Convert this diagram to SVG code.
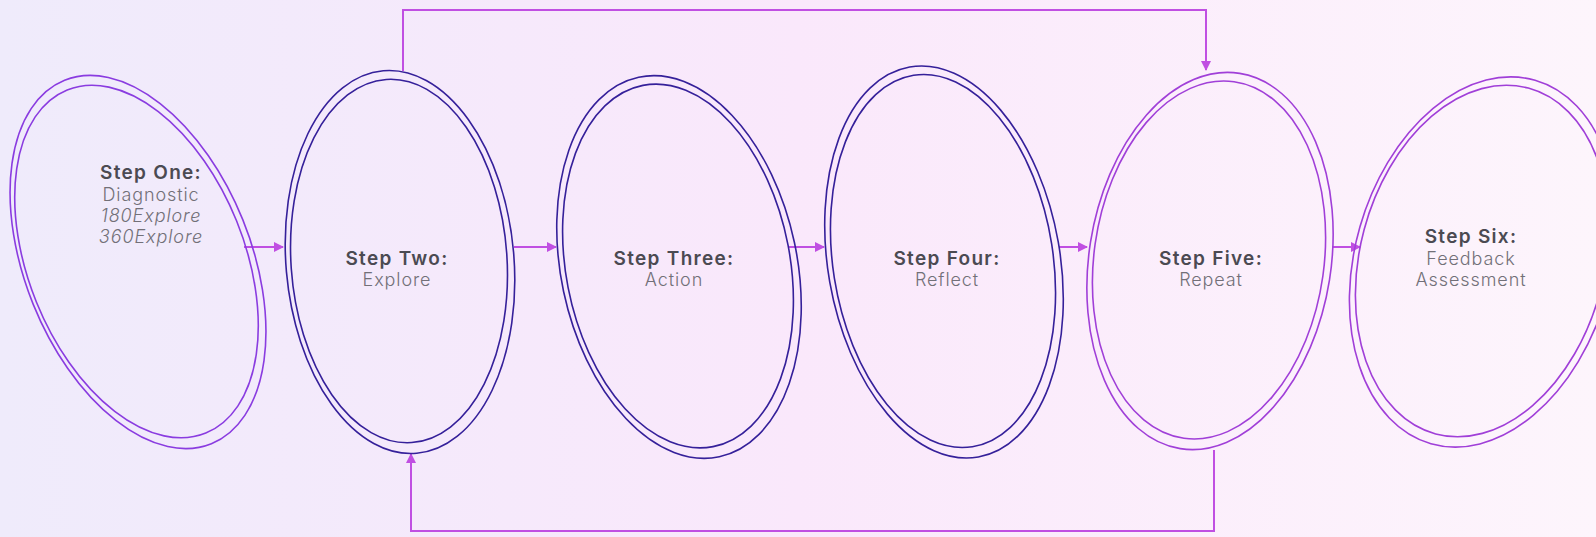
<svg xmlns="http://www.w3.org/2000/svg" width="1596" height="537" viewBox="0 0 1596 537">
<defs>
<linearGradient id="bg" x1="0" y1="0" x2="1" y2="0">
<stop offset="0" stop-color="#efebfb"/>
<stop offset="0.5" stop-color="#fae8fb"/>
<stop offset="1" stop-color="#fdf5fc"/>
</linearGradient>
<marker id="ah" viewBox="0 0 10 10" refX="9" refY="5" markerWidth="5" markerHeight="5" orient="auto-start-reverse">
<path d="M0,0 L10,5 L0,10 z" fill="#c04fe2"/>
</marker>
<style>
.conn{fill:none;stroke:#c04fe2;stroke-width:2}
.ring{fill:none;stroke-width:1.6}
.purple .ring{stroke:#8a3ce0}
.navy .ring{stroke:#35209a}
.magenta .ring{stroke:#a03fd8}
.t{font-family:"Inter","Liberation Sans",sans-serif;font-size:19px;font-weight:600;fill:#4b4a52;text-anchor:middle;letter-spacing:1.3px}
.s{font-family:"Inter","Liberation Sans",sans-serif;font-size:18px;font-weight:300;fill:#727078;text-anchor:middle;letter-spacing:0.9px}
.i{font-style:italic}
</style>
</defs>
<rect width="1596" height="537" fill="url(#bg)"/>
<g id="connectors">
<line class="conn" x1="244" y1="247" x2="283" y2="247" marker-end="url(#ah)"/>
<line class="conn" x1="514" y1="247" x2="556" y2="247" marker-end="url(#ah)"/>
<line class="conn" x1="789" y1="247" x2="824" y2="247" marker-end="url(#ah)"/>
<line class="conn" x1="1059" y1="247" x2="1087" y2="247" marker-end="url(#ah)"/>
<line class="conn" x1="1332" y1="247" x2="1360" y2="247" marker-end="url(#ah)"/>
<polyline class="conn" points="403,71 403,10 1206,10 1206,70" marker-end="url(#ah)"/>
<polyline class="conn" points="1214,450 1214,531 411,531 411,454" marker-end="url(#ah)"/>
</g>
<g id="node1" class="purple">
<ellipse class="ring" cx="138" cy="262" rx="113" ry="196" transform="rotate(-22 138 262)"/>
<ellipse class="ring" cx="136.5" cy="261.5" rx="108" ry="185" transform="rotate(-22 136.5 261.5)"/>
<text class="t" x="151" y="179">Step One:</text>
<text class="s" x="151" y="201">Diagnostic</text>
<text class="s i" x="151" y="222">180Explore</text>
<text class="s i" x="151" y="243">360Explore</text>
</g>
<g id="node2" class="navy">
<ellipse class="ring" cx="400" cy="262" rx="114" ry="192" transform="rotate(-5 400 262)"/>
<ellipse class="ring" cx="399" cy="261" rx="108" ry="182" transform="rotate(-4 399 261)"/>
<text class="t" x="397" y="265">Step Two:</text>
<text class="s" x="397" y="286">Explore</text>
</g>
<g id="node3" class="navy">
<ellipse class="ring" cx="679" cy="267" rx="118" ry="194" transform="rotate(-12 679 267)"/>
<ellipse class="ring" cx="678" cy="266" rx="112" ry="184" transform="rotate(-11 678 266)"/>
<text class="t" x="674" y="265">Step Three:</text>
<text class="s" x="674" y="286">Action</text>
</g>
<g id="node4" class="navy">
<ellipse class="ring" cx="944" cy="262" rx="116" ry="198" transform="rotate(-10 944 262)"/>
<ellipse class="ring" cx="943" cy="261" rx="110" ry="188" transform="rotate(-9 943 261)"/>
<text class="t" x="947" y="265">Step Four:</text>
<text class="s" x="947" y="286">Reflect</text>
</g>
<g id="node5" class="magenta">
<ellipse class="ring" cx="1210" cy="261" rx="121" ry="190" transform="rotate(9 1210 261)"/>
<ellipse class="ring" cx="1209" cy="260" rx="115" ry="180" transform="rotate(8 1209 260)"/>
<text class="t" x="1211" y="265">Step Five:</text>
<text class="s" x="1211" y="286">Repeat</text>
</g>
<g id="node6" class="magenta">
<ellipse class="ring" cx="1483" cy="262" rx="128" ry="189" transform="rotate(16 1483 262)"/>
<ellipse class="ring" cx="1482" cy="261" rx="122" ry="179" transform="rotate(15 1482 261)"/>
<text class="t" x="1471" y="243">Step Six:</text>
<text class="s" x="1471" y="265">Feedback</text>
<text class="s" x="1471" y="286">Assessment</text>
</g>
</svg>
